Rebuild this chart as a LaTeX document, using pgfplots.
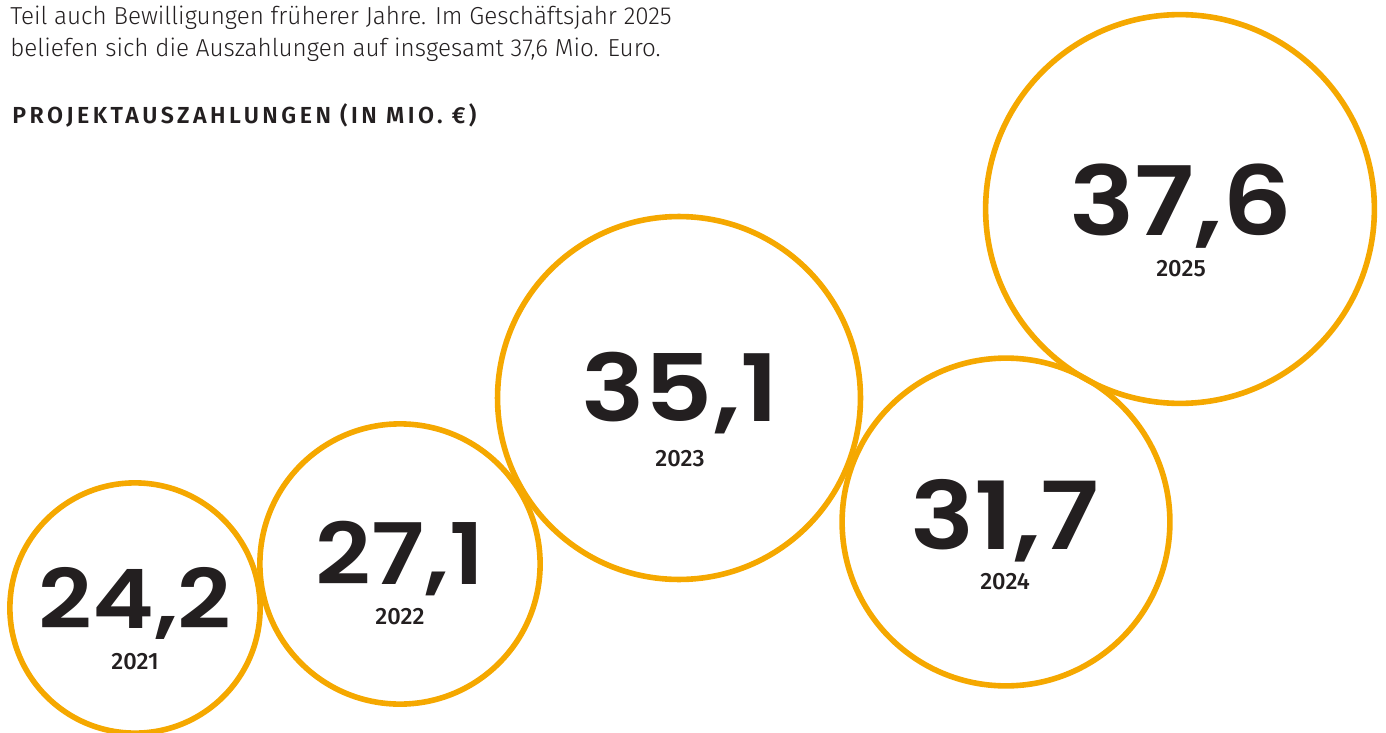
\documentclass[border=0pt]{standalone}
\usepackage{pgfplots}
\pgfplotsset{compat=1.18}
\usepackage{pgfplotstable}
\usepackage{fontspec}
\setmainfont{Fira Sans}
\newfontfamily\bodyfont{Fira Sans Light}[FakeStretch=0.985]
\newfontfamily\numfont{Poppins SemiBold}[FakeStretch=1.14]
\newfontfamily\yearfont{Fira Sans Medium}
\newfontfamily\headfont{Fira Sans SemiBold}[LetterSpace=15]
\definecolor{gold}{HTML}{F5A800}
\definecolor{ink}{HTML}{231F20}

% circle centres in px (y downward), value drives radius
\pgfplotstableread{
year x y v
2021 135 608 24.2
2022 400 564 27.1
2023 679 398 35.1
2024 1006 522 31.7
2025 1180 209 37.6
}\data

\begin{document}
\begin{tikzpicture}
\begin{axis}[
  hide axis, scale only axis,
  width=693pt, height=366.5pt,
  xmin=0, xmax=1386, ymin=0, ymax=733,
  y dir=reverse, clip=true,
]
\addplot[
  only marks, mark=o, scatter,
  mark options={line width=2.8pt},
  scatter/use mapped color={draw=gold, fill=none},
  visualization depends on={2.585*\thisrow{v} \as \rad},
  scatter/@pre marker code/.append style={/tikz/mark size=\rad},
] table[x=x, y=y] {\data};

\node[anchor=base west, text=ink, font=\bodyfont\fontsize{12.3pt}{14pt}\selectfont, inner sep=0pt] at (axis cs:10,25) {Teil auch Bewilligungen früherer Jahre. Im Geschäftsjahr 2025};
\node[anchor=base west, text=ink, font=\bodyfont\fontsize{12.3pt}{14pt}\selectfont, inner sep=0pt] at (axis cs:10,57) {beliefen sich die Auszahlungen auf insgesamt 37,6 Mio. Euro.};
\node[anchor=base west, text=ink, font=\headfont\fontsize{11.6pt}{14pt}\selectfont, inner sep=0pt] at (axis cs:12,124) {PROJEKTAUSZAHLUNGEN (IN MIO. €)};

\tikzset{num/.style={anchor=base, text=ink, inner sep=0pt, text depth=0pt}}
\node[num, font=\numfont\fontsize{41pt}{44pt}\selectfont] at (axis cs:135,628) {24,2};
\node[num, font=\numfont\fontsize{42.5pt}{44pt}\selectfont] at (axis cs:400,584) {27,1};
\node[num, font=\numfont\fontsize{46.5pt}{48pt}\selectfont] at (axis cs:680,421) {35,1};
\node[num, font=\numfont\fontsize{47pt}{48pt}\selectfont] at (axis cs:1005,549) {31,7};
\node[num, font=\numfont\fontsize{48pt}{50pt}\selectfont] at (axis cs:1181,235) {37,6};

\tikzset{yr/.style={anchor=base, text=ink, inner sep=0pt, font=\yearfont\fontsize{11.8pt}{14pt}\selectfont}}
\node[yr] at (axis cs:135,669) {2021};
\node[yr] at (axis cs:400,624) {2022};
\node[yr] at (axis cs:680,466) {2023};
\node[yr] at (axis cs:1005,589) {2024};
\node[yr] at (axis cs:1181,276) {2025};
\end{axis}
\pgfresetboundingbox
\path[use as bounding box] (current axis.south west) rectangle (current axis.north east);
\end{tikzpicture}
\end{document}
